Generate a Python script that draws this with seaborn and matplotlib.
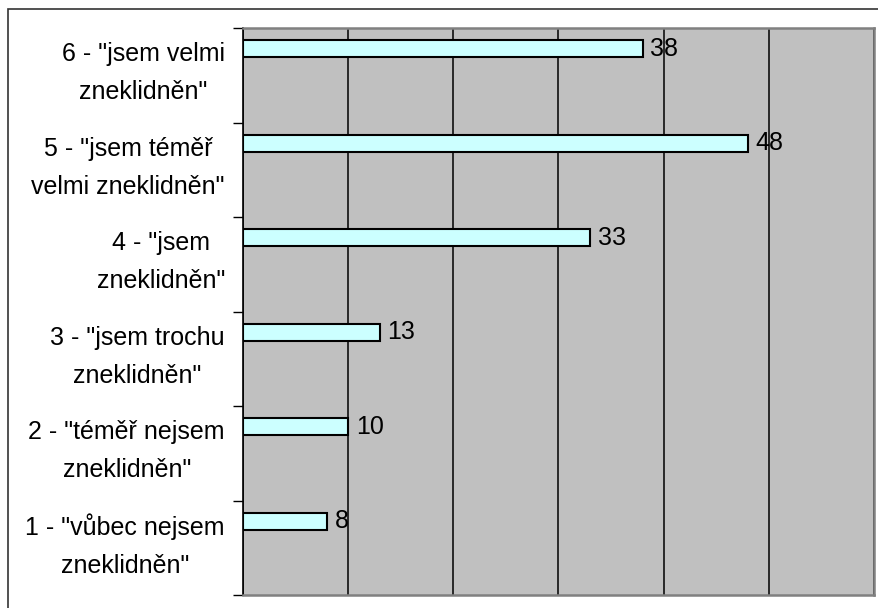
import matplotlib
matplotlib.use("Agg")
import matplotlib.pyplot as plt
import seaborn as sns
import pandas as pd
import numpy as np
from matplotlib.patches import Rectangle

categories = [
    '1 - "vůbec nejsem\nzneklidněn"',
    '2 - "téměř nejsem\nzneklidněn"',
    '3 - "jsem trochu\nzneklidněn"',
    '4 - "jsem\nzneklidněn"',
    '5 - "jsem téměř\nvelmi zneklidněn"',
    '6 - "jsem velmi\nzneklidněn"',
]
values = [8, 10, 13, 33, 48, 38]

sns.set_theme(style="white")
plt.rcParams['font.family'] = ['Liberation Sans', 'DejaVu Sans']

W, H = 879, 608
fig = plt.figure(figsize=(W / 100, H / 100), dpi=100)
fig.patch.set_facecolor("white")
ax = fig.add_axes([243 / W, (H - 595) / H, (874 - 243) / W, (595 - 28) / H])

idx = np.arange(len(categories))
bar_offset = 0.28
df = pd.DataFrame({"pos": idx + bar_offset, "value": values})

sns.barplot(data=df, x="value", y="pos", orient="h", native_scale=True,
            width=0.18, color="#CCFFFF", edgecolor="black", linewidth=1.5,
            saturation=1, ax=ax, zorder=3)

ax.set_facecolor("#C0C0C0")
ax.set_xlim(0, 60)
ax.set_ylim(-0.5, len(categories) - 0.5)
ax.set_xlabel("")
ax.set_ylabel("")

# vertical gridlines
ax.set_xticks(np.arange(0, 61, 10))
ax.set_xticklabels([])
ax.tick_params(axis="x", length=0)
ax.xaxis.grid(True, color="black", linewidth=1.1, zorder=1)
ax.set_axisbelow(True)

# y: boundary ticks (major) and labels (minor)
ax.set_yticks(np.arange(-0.5, len(categories), 1.0))
ax.set_yticklabels([])
ax.tick_params(axis="y", which="major", length=7, width=1, color="black", direction="out", left=True)
ax.set_yticks(idx + 0.12, minor=True)
ax.set_yticklabels(categories, minor=True, fontsize=18, linespacing=1.72)
ax.tick_params(axis="y", which="minor", length=0, pad=13)
for lab in ax.get_yticklabels(minor=True):
    lab.set_multialignment("center")
    lab.set_color("black")

for s in ["top", "right", "bottom"]:
    ax.spines[s].set_color("#808080")
    ax.spines[s].set_linewidth(1.8)
ax.spines["left"].set_color("black")
ax.spines["left"].set_linewidth(1.2)

ax.bar_label(ax.containers[0], labels=[str(v) for v in values], padding=5.5,
             fontsize=18, color="black")

# outer chart border
fig.add_artist(Rectangle((8 / W, -0.2), 1.2, 1.2 - 9 / H, transform=fig.transFigure,
                         fill=False, edgecolor="#333333", linewidth=1.2))

fig.savefig("out.png", dpi=100)
